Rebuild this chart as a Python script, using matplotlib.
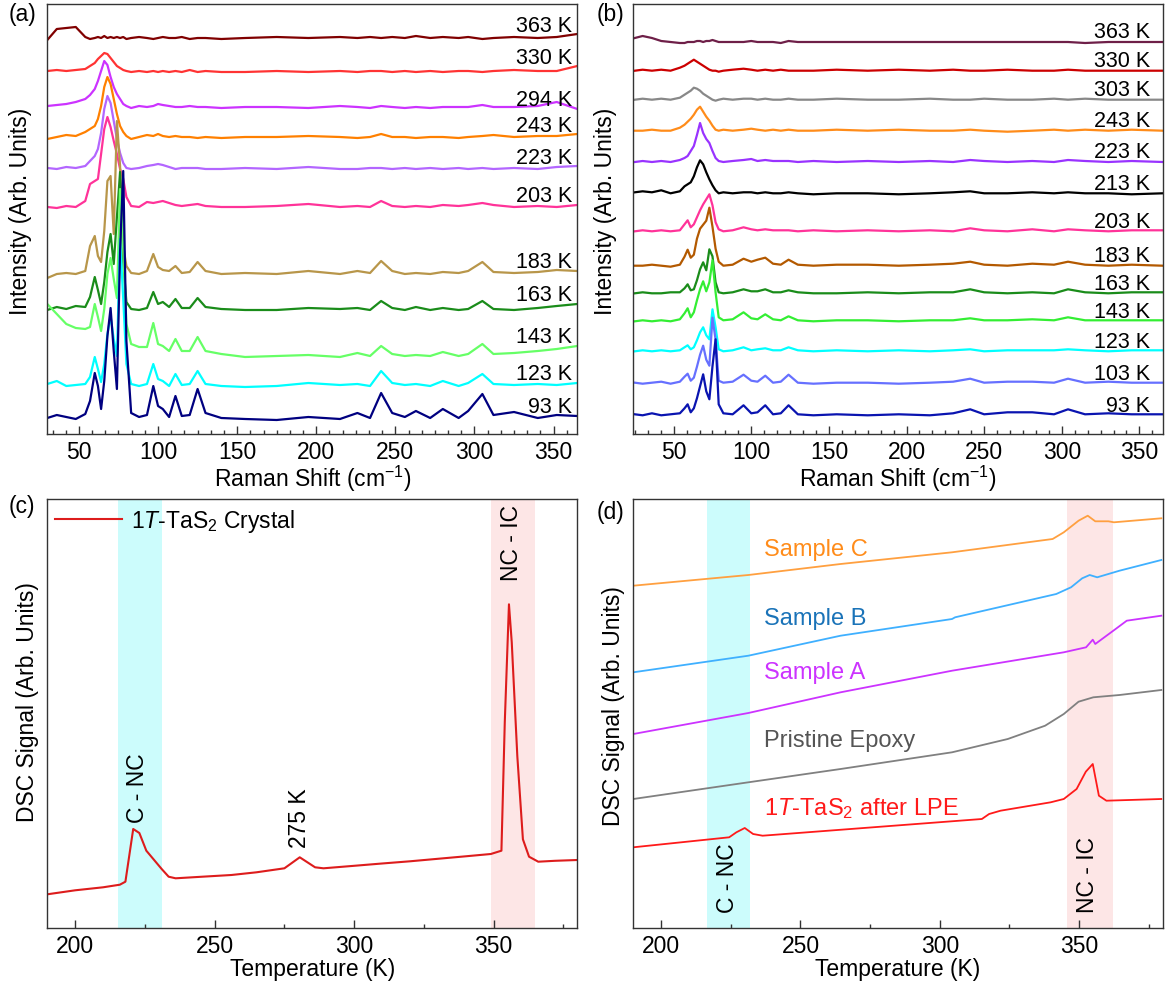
import matplotlib
matplotlib.use('Agg')
import matplotlib.pyplot as plt
from matplotlib.ticker import MultipleLocator, AutoMinorLocator, NullLocator
from matplotlib.lines import Line2D

plt.rcParams['font.family'] = ['Liberation Sans', 'DejaVu Sans']
plt.rcParams['mathtext.fontset'] = 'custom'
plt.rcParams['mathtext.rm'] = 'Liberation Sans'
plt.rcParams['mathtext.it'] = 'Liberation Sans:italic'
plt.rcParams['mathtext.bf'] = 'Liberation Sans:bold'

# ---------------- (a) Raman, sample 1 ----------------
shift_a = [30, 36, 42, 48, 54, 57, 60, 62, 64, 66, 68, 70, 72, 74, 76, 78, 80, 83, 88, 93,
           97, 100, 103, 107, 111, 115, 120, 125, 130, 140, 155, 175, 195, 215, 226, 234,
           241, 248, 256, 263, 272, 280, 290, 296, 305, 312, 325, 340, 352, 365]
temps_a = ['363 K', '330 K', '294 K', '243 K', '223 K', '203 K', '183 K', '163 K', '143 K', '123 K', '93 K']
offsets_a = [395, 361, 325, 295, 263, 225, 158, 122, 75, 45, 13]
colors_a = ['#800000', '#ff3333', '#cc33ff', '#ff8000', '#b366ff', '#ff3399',
            '#b8964a', '#1a8c1a', '#66ff66', '#00ffff', '#000080']
spec_a = [
    [-1, 10, 11, 12, 2, 0, 1, 2, 1, 3, 1, 2, 1, 2, 1, 2, 0, 1, 2, 1, 0, 1, 2, 1, 1, 2, 0, 1, 1, 0,
     1, 2, 1, 2, 1, 2, 1, 2, 1, 3, 1, 2, 1, 2, 0, 1, 2, 1, 2, 5],
    [2, 3, 2, 3, 4, 7, 10, 14, 17, 20, 19, 15, 11, 7, 5, 3, 2, 1, 2, 1, 2, 1, 2, 1, 2, 1, 3, 1, 2, 1,
     1, 2, 1, 2, 1, 2, 2, 1, 2, 1, 2, 1, 2, 2, 1, 2, 3, 2, 2, 7],
    [3, 4, 5, 7, 10, 14, 20, 28, 38, 48, 44, 32, 22, 15, 10, 5, 3, 1, 3, 2, 3, 5, 4, 3, 2, 2, 3, 2, 2, 1,
     2, 2, 1, 3, 2, 1, 3, 2, 1, 2, 1, 2, 2, 2, 4, 2, 2, 3, 7, 0],
    [0, 2, 4, 3, 7, 10, 13, 20, 33, 52, 62, 55, 40, 25, 13, 7, 3, 0, 2, 4, 3, 5, 3, 2, 3, 2, 2, 1, 2, 1,
     2, 2, 3, 2, 1, 2, 5, 2, 2, 1, 2, 2, 1, 2, 3, 4, 2, 3, 3, 5],
    [3, 2, 4, 3, 5, 10, 15, 22, 38, 62, 75, 68, 50, 32, 18, 8, 3, 2, 3, 5, 6, 7, 6, 4, 2, 3, 3, 3, 2, 2,
     3, 2, 4, 2, 2, 3, 3, 2, 3, 2, 3, 2, 3, 2, 3, 2, 3, 2, 4, 5],
    [2, 1, 3, 2, 8, 25, 28, 30, 55, 80, 92, 82, 68, 55, 40, 30, 12, 3, 2, 7, 6, 7, 8, 6, 4, 3, 4, 5, 3, 2,
     2, 3, 5, 2, 3, 2, 8, 3, 2, 3, 2, 4, 3, 4, 6, 4, 2, 3, 2, 4],
    [-2, 2, 3, 2, 5, 30, 40, 20, 14, 45, 95, 100, 42, 155, 110, 30, 10, 3, 2, 5, 22, 9, 6, 5, 10, 3, 4, 14, 5, 2,
     3, 2, 5, 2, 5, 3, 15, 5, 2, 3, 2, 4, 3, 5, 14, 4, 3, 4, 6, 5],
    [2, 5, 3, 6, 5, 15, 35, 22, 8, 30, 60, 78, 48, 95, 140, 50, 10, 3, 2, 4, 20, 8, 10, 5, 13, 4, 4, 14, 5, 3,
     2, 2, 4, 3, 4, 2, 11, 4, 2, 5, 2, 4, 2, 3, 11, 3, 2, 4, 6, 8],
    [55, 45, 35, 31, 30, 32, 55, 42, 28, 50, 85, 101, 80, 61, 170, 110, 35, 15, 12, 12, 36, 15, 13, 8, 20, 8, 8, 22, 8, 5,
     2, 3, 4, 2, 6, 3, 13, 5, 3, 4, 3, 7, 3, 5, 15, 5, 6, 8, 10, 13],
    [5, 8, 3, 4, 5, 12, 32, 20, 7, 25, 55, 73, 50, 33, 150, 90, 25, 5, 3, 5, 25, 10, 8, 3, 15, 4, 5, 18, 5, 3,
     2, 3, 6, 4, 5, 3, 18, 6, 4, 5, 3, 8, 3, 6, 15, 5, 4, 5, 4, 6],
    [3, 6, 4, 2, 7, 20, 48, 35, 12, 40, 85, 113, 70, 32, 170, 250, 80, 8, 4, 6, 35, 15, 12, 4, 25, 5, 6, 32, 8, 3,
     2, 1, 4, 2, 8, 3, 28, 8, 4, 10, 3, 12, 3, 10, 27, 6, 9, 3, 6, 5],
]

# ---------------- (b) Raman, sample 2 ----------------
shift_b = [25, 30, 36, 42, 48, 54, 57, 59, 61, 63, 65, 67, 69, 71, 73, 75, 77, 79, 82, 88,
           95, 100, 104, 109, 114, 119, 124, 130, 140, 155, 175, 195, 215, 230, 241, 250,
           265, 281, 295, 304, 315, 330, 345, 365]
temps_b = ['363 K', '330 K', '303 K', '243 K', '223 K', '213 K', '203 K', '183 K', '163 K',
           '143 K', '123 K', '103 K', '93 K']
offsets_b = [391, 362.3, 333.3, 302.3, 271, 239.7, 201.7, 167.3, 139.7, 111.7, 81.7, 49.3, 17.7]
colors_b = ['#6e1f48', '#cc0000', '#888888', '#ff8c1a', '#9933ff', '#000000', '#ff3399',
            '#b35900', '#1a8c1a', '#33ee33', '#00ffff', '#6670ff', '#0a14b0']
spec_b = [
    [5, 7, 5, 2, 1, 0, 0, 1, 1, 1, 2, 2, 1, 2, 2, 3, 2, 1, 1, 1, 1, 2, 1, 1, 1, 0, 2, 1, 1, 1, 1, 1, 1, 1, 1, 1, 1, 1, 1, 1, 0, 1, 1, 1],
    [1, 2, 1, 2, 1, 4, 6, 8, 10, 12, 10, 8, 6, 4, 2, 1, 1, 0, 1, 2, 3, 2, 1, 2, 1, 2, 1, 1, 1, 2, 1, 2, 1, 2, 1, 1, 2, 1, 1, 2, 1, 1, 1, 1],
    [1, 2, 1, 2, 1, 3, 6, 8, 10, 13, 12, 10, 7, 5, 3, 1, 0, 1, 2, 1, 2, 2, 1, 2, 1, 1, 2, 1, 1, 2, 1, 1, 2, 1, 1, 2, 1, 1, 2, 1, 2, 1, 1, 1],
    [1, 1, 2, 1, 1, 4, 7, 10, 13, 17, 22, 25, 20, 15, 11, 6, 2, 1, 2, 1, 2, 3, 2, 1, 2, 1, 2, 1, 1, 2, 1, 2, 1, 1, 2, 1, 0, 1, 2, 1, 2, 1, 2, 1],
    [1, 2, 1, 2, 1, 3, 5, 7, 12, 17, 28, 40, 30, 24, 20, 12, 5, 2, 1, 2, 3, 4, 2, 3, 2, 2, 2, 1, 2, 1, 2, 1, 2, 1, 3, 2, 1, 2, 1, 3, 2, 1, 2, 1],
    [2, 3, 2, 4, 1, 3, 8, 10, 12, 18, 27, 34, 30, 22, 15, 9, 4, 1, 2, 1, 2, 2, 1, 2, 1, 1, 2, 1, 0, 1, 1, 0, 1, 2, 3, 1, 1, 2, 1, 2, 1, 1, 0, 1],
    [1, 2, 1, 2, 1, 2, 8, 12, 5, 8, 15, 22, 28, 33, 38, 27, 10, 3, 1, 2, 5, 3, 2, 3, 2, 2, 2, 1, 2, 1, 2, 1, 2, 1, 4, 2, 1, 3, 1, 3, 2, 1, 2, 2],
    [1, 1, 2, 1, 0, 2, 10, 17, 9, 12, 28, 38, 42, 46, 59, 40, 18, 5, 1, 2, 8, 5, 7, 9, 3, 2, 7, 2, 1, 2, 2, 1, 2, 3, 5, 2, 1, 3, 2, 5, 2, 1, 2, 1],
    [1, 2, 1, 1, 2, 2, 6, 10, 4, 5, 14, 25, 32, 24, 45, 38, 12, 2, 1, 2, 5, 3, 3, 5, 2, 2, 4, 2, 1, 1, 2, 1, 2, 2, 5, 2, 1, 2, 1, 5, 2, 1, 2, 2],
    [1, 2, 1, 2, 1, 3, 9, 14, 5, 10, 22, 33, 41, 31, 40, 62, 30, 5, 2, 3, 10, 4, 3, 8, 3, 2, 6, 2, 1, 2, 2, 1, 2, 2, 4, 2, 2, 3, 2, 5, 2, 2, 2, 2],
    [1, 2, 1, 2, 1, 2, 5, 7, 3, 5, 12, 20, 25, 17, 13, 43, 25, 3, 1, 2, 5, 2, 3, 4, 2, 2, 5, 2, 1, 2, 1, 2, 1, 2, 3, 1, 2, 2, 2, 3, 2, 1, 2, 2],
    [2, 1, 2, 3, 1, 3, 8, 11, 4, 7, 18, 30, 39, 25, 19, 67, 45, 4, 2, 3, 10, 4, 3, 9, 2, 3, 10, 2, 1, 2, 2, 1, 2, 3, 6, 2, 3, 3, 2, 6, 2, 3, 2, 2],
    [2, 1, 3, 1, 2, 3, 8, 12, 4, 8, 18, 30, 42, 25, 17, 50, 77, 12, 3, 2, 11, 3, 4, 11, 2, 3, 11, 2, 1, 2, 1, 2, 1, 3, 7, 2, 4, 4, 2, 7, 2, 3, 2, 2],
]

# ---------------- (c) DSC crystal ----------------
temp_c = [190, 200, 210, 216, 218, 220.8, 223, 225.5, 228, 231, 233.5, 236, 245, 256, 265, 275,
          280.5, 286, 289, 300, 310, 320, 330, 340, 349, 352.8, 354, 355.5, 356.5, 358.5, 360.5,
          362.7, 366, 372, 380]
dsc_c = [34, 38, 41, 43.6, 46.6, 99.3, 95.3, 77.6, 69.3, 59.3, 51.6, 50, 51.5, 53.3, 56, 60,
         71, 61, 60, 62.5, 64.8, 67, 69.5, 72, 74.3, 77.6, 206, 324, 286, 172, 89,
         71.6, 66.6, 67.5, 68.3]

# ---------------- (d) DSC composites ----------------
temp_sc = [190, 231.3, 264.4, 304.4, 340.5, 344.5, 349.8, 353.1, 355.8, 360.5, 362.5, 379.5]
dsc_sc = [342.6, 353.3, 364.3, 376, 389.3, 396, 407.6, 412.6, 407, 407, 406, 410]
temp_sb = [190, 231.3, 264.4, 304.4, 305.5, 341.8, 347.1, 351.1, 353.8, 356.5, 364.5, 379.5]
dsc_sb = [256, 272.6, 292.6, 309.3, 311, 334.3, 341, 350, 353.3, 351, 357.6, 368.3]
temp_sa = [190, 231.3, 264.4, 304.4, 344.5, 352.5, 354.9, 355.8, 363.1, 367.1, 379.5]
dsc_sa = [194.3, 215.3, 236, 257.6, 276, 281, 288.6, 284.3, 299.3, 307.6, 312.6]
temp_ep = [190, 231.3, 264.4, 304.4, 324.4, 337.8, 344.5, 349.8, 355.1, 364.5, 379.5]
dsc_ep = [129.3, 146, 159.3, 176, 189.3, 202.6, 214.3, 226.6, 231, 233.3, 238.3]
temp_lpe = [190, 224.4, 227, 230, 233, 236.4, 315.1, 317.7, 321.8, 339.8, 344.5, 349.1,
            352.4, 354.9, 357.1, 359.8, 379.5]
dsc_lpe = [81, 91, 96, 100.3, 94.3, 92.6, 109.3, 114.3, 117.6, 126, 129.3, 139.3,
           156.6, 164.3, 132.6, 127.6, 129.3]

W, H = 1166, 987
fig = plt.figure(figsize=(W / 100, H / 100), dpi=100)


def add_box(left, right, top, bottom):
    return fig.add_axes([left / W, 1 - bottom / H, (right - left) / W, (bottom - top) / H])


def style(ax, nminor):
    for s in ax.spines.values():
        s.set_color('#333333')
        s.set_linewidth(1.0)
    ax.yaxis.set_major_locator(NullLocator())
    ax.xaxis.set_major_locator(MultipleLocator(50))
    ax.xaxis.set_minor_locator(AutoMinorLocator(nminor))
    ax.tick_params(axis='x', which='major', direction='in', length=5.5, width=1,
                   color='#333333', labelsize=16.5, pad=4)
    ax.tick_params(axis='x', which='minor', direction='in', length=3, width=1, color='#333333')


FS = 16.5

# (a)
ax_a = add_box(47.3, 577.3, 5, 435)
for lab, off, col, ys in zip(temps_a, offsets_a, colors_a, spec_a):
    ax_a.plot(shift_a, [off + v for v in ys], color=col, lw=1.6)
    ax_a.text(361.5, off + ys[-1] + 9, lab, ha='right', va='center', fontsize=15.5)
ax_a.set_xlim(30, 365)
ax_a.set_ylim(0, 430)
style(ax_a, 6)
ax_a.set_xlabel('Raman Shift (cm$^{-1}$)', fontsize=FS, labelpad=0)
ax_a.set_ylabel('Intensity (Arb. Units)', fontsize=FS)
ax_a.yaxis.set_label_coords(-0.029, 0.52)

# (b)
ax_b = add_box(633.3, 1162.7, 5, 435)
for lab, off, col, ys in zip(temps_b, offsets_b, colors_b, spec_b):
    ax_b.plot(shift_b, [off + v for v in ys], color=col, lw=1.6)
    ax_b.text(357, off + 11, lab, ha='right', va='center', fontsize=15.5)
ax_b.set_xlim(24, 365)
ax_b.set_ylim(0, 430)
style(ax_b, 6)
ax_b.set_xlabel('Raman Shift (cm$^{-1}$)', fontsize=FS, labelpad=0)
ax_b.set_ylabel('Intensity (Arb. Units)', fontsize=FS)
ax_b.yaxis.set_label_coords(-0.030, 0.52)

# (c)
ax_c = add_box(47.3, 577.3, 500, 929.3)
ax_c.axvspan(215.5, 231, color='#ccfcfc', lw=0, zorder=0)
ax_c.axvspan(349, 365, color='#fde6e6', lw=0, zorder=0)
line_c, = ax_c.plot(temp_c, dsc_c, color='#dd1c1c', lw=1.5)
ax_c.text(222.2, 106, 'C - NC', rotation=90, ha='center', va='bottom', fontsize=FS)
ax_c.text(280.5, 81, '275 K', rotation=90, ha='center', va='bottom', fontsize=FS)
ax_c.text(356.4, 424, 'NC - IC', rotation=90, ha='center', va='top', fontsize=FS)
ax_c.legend(handles=[Line2D([0], [0], color='#dd1c1c', lw=1.5)],
            labels=['1$\\mathit{T}$-TaS$_2$ Crystal'], loc='upper left', frameon=False,
            fontsize=FS, handlelength=2.9, handletextpad=0.4, borderaxespad=0.1, borderpad=0.25)
ax_c.set_xlim(190, 380)
ax_c.set_ylim(0, 429.3)
style(ax_c, 2)
ax_c.set_xlabel('Temperature (K)', fontsize=FS, labelpad=0)
ax_c.set_ylabel('DSC Signal (Arb. Units)', fontsize=FS)
ax_c.yaxis.set_label_coords(-0.015, 0.53)

# (d)
ax_d = add_box(633.3, 1162.7, 500, 929.3)
ax_d.axvspan(216.5, 232, color='#ccfcfc', lw=0, zorder=0)
ax_d.axvspan(345.5, 362, color='#fde6e6', lw=0, zorder=0)
ax_d.plot(temp_sc, dsc_sc, color='#ffa040', lw=1.3)
ax_d.plot(temp_sb, dsc_sb, color='#3fb0ff', lw=1.3)
ax_d.plot(temp_sa, dsc_sa, color='#cc33ff', lw=1.3)
ax_d.plot(temp_ep, dsc_ep, color='#808080', lw=1.3)
ax_d.plot(temp_lpe, dsc_lpe, color='#ff1a1a', lw=1.3)
ax_d.text(237, 379.3, 'Sample C', color='#ff8c1a', fontsize=17, va='center')
ax_d.text(237, 310, 'Sample B', color='#1a73b8', fontsize=17, va='center')
ax_d.text(237, 256, 'Sample A', color='#cc33ff', fontsize=17, va='center')
ax_d.text(237, 188.6, 'Pristine Epoxy', color='#555555', fontsize=17, va='center')
ax_d.text(237, 121, '1$\\mathit{T}$-TaS$_2$ after LPE', color='#ff1a1a', fontsize=17, va='center')
ax_d.text(223.7, 16, 'C - NC', rotation=90, ha='center', va='bottom', fontsize=FS)
ax_d.text(353.1, 16, 'NC - IC', rotation=90, ha='center', va='bottom', fontsize=FS)
ax_d.set_xlim(190, 380)
ax_d.set_ylim(0, 429.3)
style(ax_d, 2)
ax_d.set_xlabel('Temperature (K)', fontsize=FS, labelpad=0)
ax_d.set_ylabel('DSC Signal (Arb. Units)', fontsize=FS)
ax_d.yaxis.set_label_coords(-0.016, 0.52)

# panel letters
for lab, x, y in [('(a)', 9, 15), ('(b)', 597, 15), ('(c)', 9, 507), ('(d)', 597, 512)]:
    fig.text(x / W, 1 - y / H, lab, ha='left', va='center', fontsize=FS)

fig.savefig('out.png', dpi=100)
